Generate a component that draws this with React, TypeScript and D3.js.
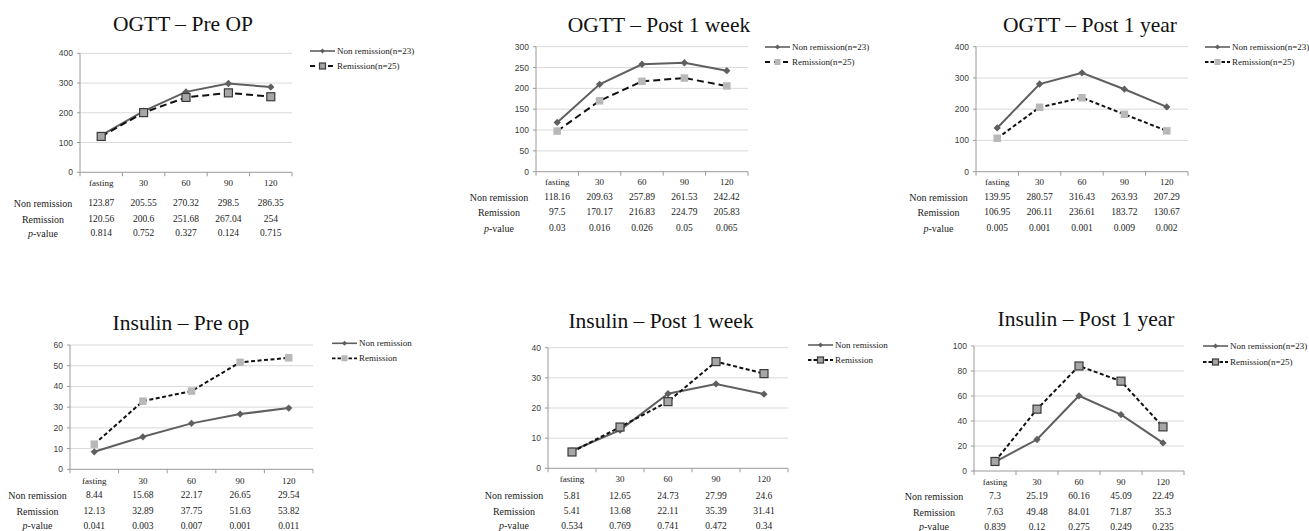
import React from "react";
import * as d3 from "d3";

// categories
const timepoints = ["fasting", "30", "60", "90", "120"];

// OGTT
const ogttPreNon = [123.87, 205.55, 270.32, 298.5, 286.35];
const ogttPreRem = [120.56, 200.6, 251.68, 267.04, 254];
const ogttPreP = [0.814, 0.752, 0.327, 0.124, 0.715];

const ogttWeekNon = [118.16, 209.63, 257.89, 261.53, 242.42];
const ogttWeekRem = [97.5, 170.17, 216.83, 224.79, 205.83];
const ogttWeekP = [0.03, 0.016, 0.026, 0.05, 0.065];

const ogttYearNon = [139.95, 280.57, 316.43, 263.93, 207.29];
const ogttYearRem = [106.95, 206.11, 236.61, 183.72, 130.67];
const ogttYearP = [0.005, 0.001, 0.001, 0.009, 0.002];

// Insulin
const insPreNon = [8.44, 15.68, 22.17, 26.65, 29.54];
const insPreRem = [12.13, 32.89, 37.75, 51.63, 53.82];
const insPreP = [0.041, 0.003, 0.007, 0.001, 0.011];

const insWeekNon = [5.81, 12.65, 24.73, 27.99, 24.6];
const insWeekRem = [5.41, 13.68, 22.11, 35.39, 31.41];
const insWeekP = [0.534, 0.769, 0.741, 0.472, 0.34];

const insYearNon = [7.3, 25.19, 60.16, 45.09, 22.49];
const insYearRem = [7.63, 49.48, 84.01, 71.87, 35.3];
const insYearP = [0.839, 0.12, 0.275, 0.249, 0.235];

const legendN = ["Non remission(n=23)", "Remission(n=25)"];
const legendPlain = ["Non remission", "Remission"];

const SERIF = "'Liberation Serif', 'Times New Roman', serif";
const SANS = "'Liberation Sans', Arial, sans-serif";
const NON_COLOR = "#5f5f5f";

const panels = [
  {
    title: "OGTT \u2013 Pre OP", non: ogttPreNon, rem: ogttPreRem, p: ogttPreP,
    yMax: 400, yStep: 100, legend: legendN, bordered: true, dash: "7,4",
    x0: 80, x1: 292, yTop: 53.3, yBot: 172.3, titleX: 183, titleY: 30.5,
    labY: 183, rows: [203, 219, 233], rowX: 43, legX: 310, legY: [51, 66],
  },
  {
    title: "OGTT \u2013 Post 1 week", non: ogttWeekNon, rem: ogttWeekRem, p: ogttWeekP,
    yMax: 300, yStep: 50, legend: legendN, bordered: false, dash: "7,4",
    x0: 536, x1: 748, yTop: 46.7, yBot: 171.7, titleX: 659, titleY: 32,
    labY: 182, rows: [197, 212, 228], rowX: 499, legX: 765, legY: [47, 62],
  },
  {
    title: "OGTT \u2013 Post 1 year", non: ogttYearNon, rem: ogttYearRem, p: ogttYearP,
    yMax: 400, yStep: 100, legend: legendN, bordered: false, dash: "4,2.5",
    x0: 976, x1: 1188, yTop: 46.7, yBot: 171.7, titleX: 1090, titleY: 32,
    labY: 182, rows: [197, 212, 228], rowX: 938.5, legX: 1205, legY: [47, 62],
  },
  {
    title: "Insulin \u2013 Pre op", non: insPreNon, rem: insPreRem, p: insPreP,
    yMax: 60, yStep: 10, legend: legendPlain, bordered: false, dash: "4,2.5",
    x0: 70, x1: 313, yTop: 345, yBot: 469.3, titleX: 181, titleY: 330,
    labY: 480.7, rows: [495, 511, 525.7], rowX: 37.5, legX: 332, legY: [343.3, 358.3],
  },
  {
    title: "Insulin \u2013 Post 1 week", non: insWeekNon, rem: insWeekRem, p: insWeekP,
    yMax: 40, yStep: 10, legend: legendPlain, bordered: true, dash: "4,2.5",
    x0: 548, x1: 788, yTop: 347.7, yBot: 468.3, titleX: 661, titleY: 328,
    labY: 479.3, rows: [495.7, 511, 525.7], rowX: 514, legX: 808, legY: [345, 360],
  },
  {
    title: "Insulin \u2013 Post 1 year", non: insYearNon, rem: insYearRem, p: insYearP,
    yMax: 100, yStep: 20, legend: legendN, bordered: true, dash: "4,2.5",
    x0: 974, x1: 1184, yTop: 346, yBot: 471, titleX: 1086, titleY: 325.7,
    labY: 481.7, rows: [496, 512, 526.7], rowX: 934, legX: 1203, legY: [346, 362],
  },
];

const diamondType = (d3 as any).symbolDiamond2 || d3.symbolDiamond;
const diamond = d3.symbol(diamondType, 34)();
const legendDiamond = d3.symbol(diamondType, 16)();

const Square = ({x, y, s, bordered}: any) => (
  <rect
    x={x - s / 2}
    y={y - s / 2}
    width={s}
    height={s}
    fill={bordered ? "#a6a6a6" : "#b8b8b8"}
    stroke={bordered ? "#3a3a3a" : "none"}
    strokeWidth={bordered ? 1.2 : 0}
  />
);

const Panel = ({cfg}: any) => {
  const x = d3.scaleBand().domain(timepoints).range([cfg.x0, cfg.x1]).padding(0);
  const y = d3.scaleLinear().domain([0, cfg.yMax]).range([cfg.yBot, cfg.yTop]);
  const ticks = d3.range(0, cfg.yMax + cfg.yStep / 2, cfg.yStep);
  const cx = (d: string) => (x(d) as number) + x.bandwidth() / 2;
  const line = d3
    .line<number>()
    .x((_, i) => cx(timepoints[i]))
    .y((v) => y(v));
  const bounds = timepoints.map((t) => x(t) as number).concat([cfg.x1]);
  const sq = cfg.bordered ? 8 : 7.5;
  const rowNames = ["Non remission", "Remission"];

  return (
    <g>
      <text x={cfg.titleX} y={cfg.titleY} textAnchor="middle" fontFamily={SERIF} fontSize={21.5} fontWeight="normal" fill="#111">
        {cfg.title}
      </text>

      {/* gridlines */}
      {ticks.map((t) => (
        <g key={t}>
          {t > 0 && <line x1={cfg.x0} x2={cfg.x1} y1={y(t)} y2={y(t)} stroke="#d9d9d9" strokeWidth={1} />}
          <line x1={cfg.x0 - 3} x2={cfg.x0} y1={y(t)} y2={y(t)} stroke="#9a9a9a" />
          <text x={cfg.x0 - 7} y={y(t)} dy="0.35em" textAnchor="end" fontFamily={SANS} fontSize={8.5} fill="#404040">
            {t}
          </text>
        </g>
      ))}

      {/* axes */}
      <line x1={cfg.x0} x2={cfg.x0} y1={cfg.yTop} y2={cfg.yBot} stroke="#9a9a9a" />
      <line x1={cfg.x0} x2={cfg.x1} y1={cfg.yBot} y2={cfg.yBot} stroke="#9a9a9a" />
      {bounds.map((b, i) => (
        <line key={i} x1={b} x2={b} y1={cfg.yBot} y2={cfg.yBot + 4} stroke="#9a9a9a" />
      ))}

      {/* series */}
      <path d={line(cfg.non) || ""} fill="none" stroke={NON_COLOR} strokeWidth={2} />
      <path d={line(cfg.rem) || ""} fill="none" stroke="#111" strokeWidth={2} strokeDasharray={cfg.dash} />
      {cfg.non.map((v: number, i: number) => (
        <path key={"n" + i} d={diamond || ""} transform={`translate(${cx(timepoints[i])},${y(v)})`} fill={NON_COLOR} />
      ))}
      {cfg.rem.map((v: number, i: number) => (
        <Square key={"r" + i} x={cx(timepoints[i])} y={y(v)} s={sq} bordered={cfg.bordered} />
      ))}

      {/* x labels */}
      {timepoints.map((t) => (
        <text key={t} x={cx(t)} y={cfg.labY} dy="0.35em" textAnchor="middle" fontFamily={SERIF} fontSize={9} fill="#222">
          {t}
        </text>
      ))}

      {/* table */}
      {[cfg.non, cfg.rem, cfg.p].map((row: number[], r: number) => (
        <g key={"row" + r}>
          <text x={cfg.rowX} y={cfg.rows[r]} dy="0.35em" textAnchor="middle" fontFamily={SERIF} fontSize={10} fill="#222">
            {r < 2 ? rowNames[r] : (
              <>
                <tspan fontStyle="italic">p</tspan>-value
              </>
            )}
          </text>
          {row.map((v, i) => (
            <text key={i} x={cx(timepoints[i])} y={cfg.rows[r]} dy="0.35em" textAnchor="middle" fontFamily={SERIF} fontSize={9.5} fill="#222">
              {String(v)}
            </text>
          ))}
        </g>
      ))}

      {/* legend */}
      <g>
        <line x1={cfg.legX} x2={cfg.legX + 25} y1={cfg.legY[0]} y2={cfg.legY[0]} stroke={NON_COLOR} strokeWidth={1.6} />
        <path d={legendDiamond || ""} transform={`translate(${cfg.legX + 12.5},${cfg.legY[0]})`} fill={NON_COLOR} />
        <text x={cfg.legX + 27} y={cfg.legY[0]} dy="0.35em" fontFamily={SERIF} fontSize={9} fill="#222">
          {cfg.legend[0]}
        </text>
        <line x1={cfg.legX} x2={cfg.legX + 25} y1={cfg.legY[1]} y2={cfg.legY[1]} stroke="#111" strokeWidth={1.8} strokeDasharray={cfg.dash === "7,4" ? "5,4" : "3.5,2"} />
        <Square x={cfg.legX + 12.5} y={cfg.legY[1]} s={6} bordered={cfg.bordered} />
        <text x={cfg.legX + 27} y={cfg.legY[1]} dy="0.35em" fontFamily={SERIF} fontSize={9} fill="#222">
          {cfg.legend[1]}
        </text>
      </g>
    </g>
  );
};

export default function App() {
  return (
    <svg
      width={1309}
      height={531}
      viewBox="0 0 1309 531"
      style={{position: "absolute", left: 0, top: 0, background: "#fff"}}
    >
      <rect width={1309} height={531} fill="#fff" />
      {panels.map((cfg, i) => (
        <Panel key={i} cfg={cfg} />
      ))}
    </svg>
  );
}
